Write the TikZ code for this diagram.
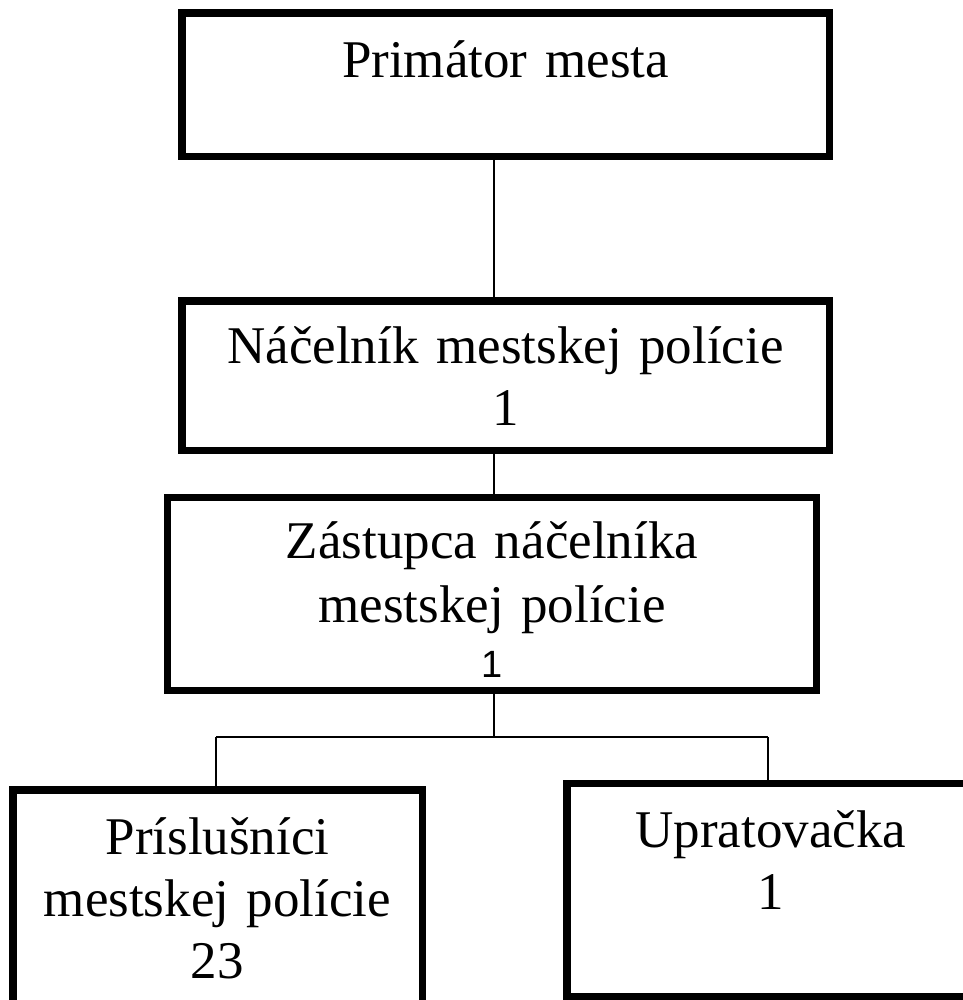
\documentclass[tikz,border=0pt]{standalone}
\usepackage{fontspec}
\setmainfont{Liberation Serif}
\newfontfamily\digitfont{Liberation Sans}

\begin{document}
\begin{tikzpicture}[x=0.75pt,y=0.75pt,yscale=-1,xscale=1,
  orgbox/.style={draw, line width=5.6pt, inner sep=0pt},
  boxtext/.style={anchor=base, inner sep=0pt, align=center, font=\fontsize{39.75}{46.5}\selectfont},
  link/.style={line width=1pt}]
%set diagram frame 963 x 1000
\useasboundingbox (0,0) rectangle (963,1000);
\clip (0,0) rectangle (963,1000);

%Shape: Rectangle
\node (primator) [orgbox, minimum width=485.6pt, minimum height=107.6pt] at (505.5,84.5) {};
%Shape: Rectangle
\node (nacelnik) [orgbox, minimum width=485.6pt, minimum height=112.1pt] at (505.5,375.5) {};
%Shape: Rectangle
\node (zastupca) [orgbox, minimum width=486.4pt, minimum height=144.4pt] at (492,594) {};
%Shape: Rectangle
\node (prislusnici) [orgbox, minimum width=307.1pt, minimum height=172.7pt] at (217.5,904.9) {};
%Shape: Rectangle
\node (upratovacka) [orgbox, minimum width=306.2pt, minimum height=159.4pt] at (770.9,890) {};

%Straight Lines
\coordinate (split) at (494,737);
\coordinate (busL) at (216,737);
\coordinate (busR) at (768,737);
\draw [link] (split |- primator.south) -- (split |- nacelnik.north);
\draw [link] (split |- nacelnik.south) -- (split |- zastupca.north);
\draw [link] (split |- zastupca.south) -- (split);
\draw [link] (busL) -- (busR);
\draw [link] (busL) -- (busL |- prislusnici.north);
\draw [link] (busR) -- (busR |- upratovacka.north);

% Text Node
\node (primatorText) [boxtext, text width=480pt] at (505.5,77) {Primátor mesta};
% Text Node
\node (nacelnikText) [boxtext, text width=480pt] at (505.5,363) {Náčelník mestskej polície\\ 1};
% Text Node
\node (zastupcaText) [boxtext, text width=480pt] at (492,558) {Zástupca náčelníka\\[1.5pt] mestskej polície\\[-5.25pt] {\digitfont\fontsize{28.5}{30}\selectfont 1}};
% Text Node
\node (prislusniciText) [boxtext, text width=300pt] at (217.5,854) {Príslušníci\\ mestskej polície\\ 23};
% Text Node
\node (upratovackaText) [boxtext, text width=300pt] at (770.9,847) {Upratovačka\\ 1};

\end{tikzpicture}
\end{document}
